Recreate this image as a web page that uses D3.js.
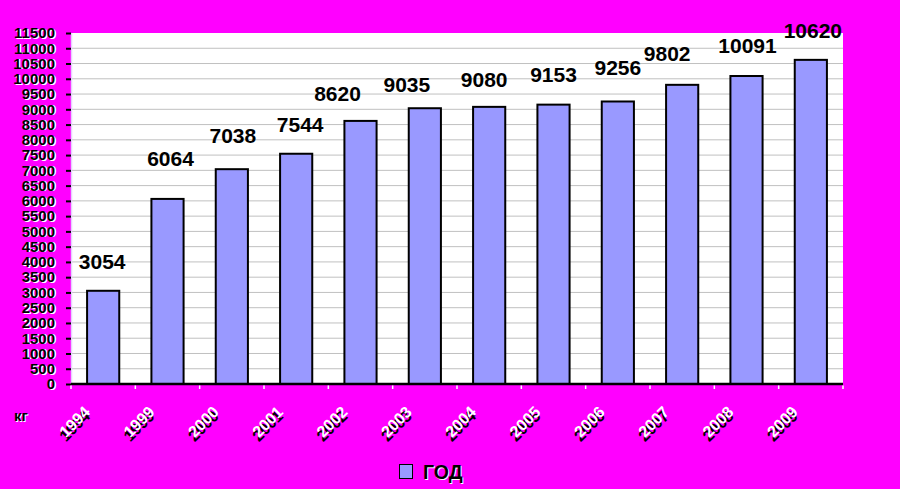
<!DOCTYPE html>
<html><head><meta charset="utf-8">
<script src="https://cdn.jsdelivr.net/npm/d3@7"></script>
<style>
html,body{margin:0;padding:0;background:#ff00ff;}
svg{display:block;}
text{font-family:"Liberation Sans",Arial,sans-serif;font-weight:bold;}
.ytl{fill:#000;text-shadow:1.5px 0.5px 0 #fff;}
.xtl{fill:#fff;text-shadow:-3px 3px 0 #000;}
.sh{fill:#000;text-shadow:1px 1px 0 #fff;}
</style></head>
<body>
<svg id="c" width="900" height="489"></svg>
<script>
const years = ["1994","1999","2000","2001","2002","2003","2004","2005","2006","2007","2008","2009"];
const values = [3054,6064,7038,7544,8620,9035,9080,9153,9256,9802,10091,10620];
const yTicks = d3.range(0, 11501, 500);
const seriesName = "ГОД";
const unitLabel = "кг";
// small manual nudges of value labels as seen in the picture (px, relative to default spot)
const labelDx = [-1, 3, 1, 4, -23, -18, -5, 0, 0, -15, 1, 2];
const labelDy = [0, -11, -4, 0, 2, 6, 2, -1, -4, -2, -1, 0];

const svg = d3.select("#c");
const m = {left:71, right:57, top:33, bottom:105};
const W = 900, H = 489;
const x = d3.scaleBand().domain(years).range([m.left, W - m.right]).paddingInner(0.5).paddingOuter(0.25);
const y = d3.scaleLinear().domain([0, 11500]).range([H - m.bottom, m.top]);

// plot area
svg.append("rect").attr("x", m.left).attr("y", m.top)
  .attr("width", W - m.right - m.left).attr("height", H - m.bottom - m.top).attr("fill", "#fff");

// gridlines
svg.append("g").selectAll("line").data(yTicks.filter(d => d > 0 && d < 11500)).join("line")
  .attr("x1", m.left).attr("x2", W - m.right)
  .attr("y1", d => y(d)).attr("y2", d => y(d))
  .attr("stroke", "#c0c0c0").attr("stroke-width", 1);

// left axis line (light)
svg.append("line").attr("x1", m.left + 0.5).attr("x2", m.left + 0.5)
  .attr("y1", m.top).attr("y2", y(0)).attr("stroke", "#e6d0ff").attr("stroke-width", 1.5);

// y axis
const yAxis = d3.axisLeft(y).tickValues(yTicks).tickSize(5).tickPadding(11).tickFormat(d3.format("d"));
const gy = svg.append("g").attr("transform", `translate(${m.left},0)`).call(yAxis);
gy.select(".domain").remove();
gy.selectAll(".tick line").attr("stroke", "#000").attr("stroke-width", 2);
gy.selectAll(".tick text").attr("class", "ytl").attr("font-size", 15)
  .attr("font-family", null);

// bars
svg.append("g").selectAll("rect").data(values).join("rect")
  .attr("x", (d, i) => x(years[i]))
  .attr("y", d => y(d))
  .attr("width", x.bandwidth())
  .attr("height", d => y(0) - y(d))
  .attr("fill", "#9999ff").attr("stroke", "#000").attr("stroke-width", 2);

// x axis
svg.append("line").attr("x1", m.left).attr("x2", W - m.right).attr("y1", y(0)).attr("y2", y(0))
  .attr("stroke", "#000").attr("stroke-width", 2.5);
// white boundary ticks
const bounds = years.map((d) => x(d) - x.step() * 0.25).concat([W - m.right]);
svg.append("g").selectAll("line").data(bounds).join("line")
  .attr("x1", d => d).attr("x2", d => d).attr("y1", y(0) + 1.5).attr("y2", y(0) + 5)
  .attr("stroke", "#fff").attr("stroke-width", 1.5);

// x labels (rotated, white with black offset)
svg.append("g").selectAll("text").data(years).join("text")
  .attr("class", "xtl")
  .attr("transform", d => `translate(${x(d) + x.bandwidth() / 2 - 12},${y(0) + 29}) rotate(-45)`)
  .attr("text-anchor", "end").attr("font-size", 16).text(d => d);

// value labels
svg.append("g").selectAll("text").data(values).join("text")
  .attr("x", (d, i) => x(years[i]) + x.bandwidth() / 2 + labelDx[i])
  .attr("y", (d, i) => y(d) - 22 + labelDy[i])
  .attr("text-anchor", "middle").attr("font-size", 21).attr("fill", "#000")
  .text(d => d);

// unit label
svg.append("text").attr("class", "sh").attr("x", 14).attr("y", 421).attr("font-size", 15).text(unitLabel);

// legend
const lg = svg.append("g");
lg.append("rect").attr("x", 399.5).attr("y", 464.5).attr("width", 13).attr("height", 14)
  .attr("fill", "#9999ff").attr("stroke", "#000").attr("stroke-width", 1);
lg.append("text").attr("class", "sh").attr("x", 423).attr("y", 479).attr("font-size", 19.5).text(seriesName);
</script>
</body></html>
